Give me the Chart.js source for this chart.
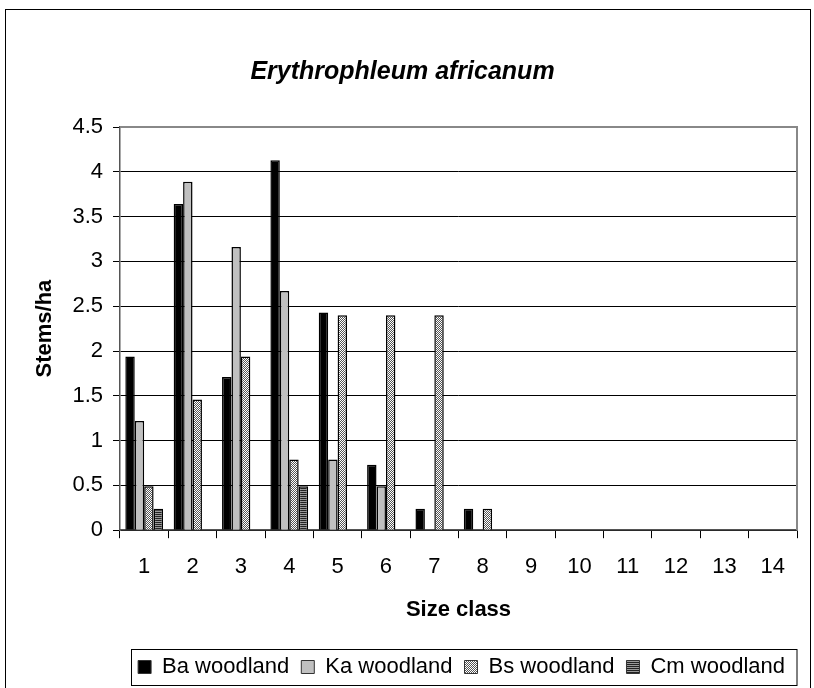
<!DOCTYPE html>
<html>
<head>
<meta charset="utf-8">
<script src="https://cdn.jsdelivr.net/npm/chart.js@4"></script>
<style>
  html, body { margin: 0; padding: 0; background: #fff; }
  #wrap { width: 814px; height: 688px; }
</style>
</head>
<body>
<div id="wrap"><canvas id="chart" width="814" height="688"></canvas></div>
<script>
// size classes and stems/ha per woodland type
const sizeClasses = ['1', '2', '3', '4', '5', '6', '7', '8', '9', '10', '11', '12', '13', '14'];
const baWoodland = [1.94, 3.64, 1.71, 4.13, 2.43, 0.73, 0.24, 0.24, 0, 0, 0, 0, 0, 0];
const kaWoodland = [1.22, 3.89, 3.16, 2.67, 0.79, 0.49, 0, 0, 0, 0, 0, 0, 0, 0];
const bsWoodland = [0.49, 1.46, 1.94, 0.79, 2.40, 2.40, 2.40, 0.24, 0, 0, 0, 0, 0, 0];
const cmWoodland = [0.24, 0, 0, 0.49, 0, 0, 0, 0, 0, 0, 0, 0, 0, 0];
const yTicks = [0, 0.5, 1, 1.5, 2, 2.5, 3, 3.5, 4, 4.5];

const FONT = '"Liberation Sans", Arial, sans-serif';

// fill patterns, Excel style
function makePattern(kind) {
  const c = document.createElement('canvas');
  c.width = 4; c.height = 4;
  const g = c.getContext('2d');
  g.fillStyle = '#fff';
  g.fillRect(0, 0, 4, 4);
  if (kind === 'diag') {
    g.fillStyle = '#555';
    for (let i = 0; i < 4; i++) {
      g.fillRect((3 - i + 4) % 4, i, 1, 1);
      g.fillRect((3 - i + 6) % 4, i, 1, 1);
    }
  } else {
    g.fillStyle = '#222';
    g.fillRect(0, 0, 4, 1);
    g.fillRect(0, 2, 4, 1);
    g.fillStyle = '#999';
    g.fillRect(0, 1, 4, 1);
    g.fillRect(0, 3, 4, 1);
  }
  return g.createPattern(c, 'repeat');
}
const ctx = document.getElementById('chart').getContext('2d');
const diagFill = makePattern('diag');
const stripeFill = makePattern('stripe');

// white background, outer frame, plot frame and legend box
const framePlugin = {
  id: 'frame',
  beforeDraw(chart) {
    const c = chart.ctx;
    c.save();
    c.fillStyle = '#fff';
    c.fillRect(0, 0, chart.width, chart.height);
    c.strokeStyle = '#000';
    c.lineWidth = 1;
    c.strokeRect(5.5, 9.5, chart.width - 9, chart.height + 20);
    c.restore();
  },
  afterDraw(chart) {
    const c = chart.ctx;
    const a = chart.chartArea;
    c.save();
    c.strokeStyle = '#888';
    c.lineWidth = 2;
    c.beginPath();
    c.moveTo(a.left, a.top);
    c.lineTo(a.right, a.top);
    c.lineTo(a.right, a.bottom);
    c.stroke();
    const boxes = chart.legend.legendHitBoxes;
    if (boxes && boxes.length) {
      const minX = Math.min(...boxes.map(b => b.left));
      const top = boxes[0].top;
      c.strokeStyle = '#000';
      c.lineWidth = 1;
      const left = Math.round(minX - 7) + 0.5;
      c.strokeRect(left, Math.round(top - 7) + 0.5, Math.round(a.right) - left, 36);
    }
    c.restore();
  }
};

new Chart(ctx, {
  type: 'bar',
  data: {
    labels: sizeClasses,
    datasets: [{
      label: 'Ba woodland',
      data: baWoodland,
      backgroundColor: '#000',
      borderColor: '#000',
      borderWidth: 1.5
    },
    {
      label: 'Ka woodland',
      data: kaWoodland,
      backgroundColor: '#c0c0c0',
      borderColor: '#000',
      borderWidth: 1.5
    },
    {
      label: 'Bs woodland',
      data: bsWoodland,
      backgroundColor: diagFill,
      borderColor: '#000',
      borderWidth: 1.5
    },
    {
      label: 'Cm woodland',
      data: cmWoodland,
      backgroundColor: stripeFill,
      borderColor: '#000',
      borderWidth: 1.5
    }]
  },
  options: {
    responsive: false,
    animation: false,
    devicePixelRatio: 1,
    categoryPercentage: 0.78,
    barPercentage: 1.0,
    layout: {
      padding: { left: 8, right: 17, top: 10, bottom: 0 }
    },
    scales: {
      x: {
        grid: {
          offset: true,
          drawOnChartArea: false,
          drawTicks: true,
          tickLength: 8,
          color: '#000'
        },
        border: { color: '#555', width: 1.5 },
        ticks: {
          color: '#000',
          padding: 16,
          font: { family: FONT, size: 22 }
        },
        title: {
          display: true,
          text: 'Size class',
          color: '#000',
          padding: { top: 0, bottom: 21 },
          font: { family: FONT, size: 22, weight: 'bold' }
        }
      },
      y: {
        min: 0,
        max: 4.5,
        afterBuildTicks(axis) {
          axis.ticks = yTicks.map(v => ({ value: v }));
        },
        afterFit(axis) {
          axis.width = 112;
        },
        grid: {
          color: '#000',
          lineWidth: 1,
          tickLength: 7
        },
        border: { color: '#555', width: 1.5 },
        ticks: {
          color: '#000',
          padding: 10,
          font: { family: FONT, size: 22 },
          callback: v => String(v)
        },
        title: {
          display: true,
          text: 'Stems/ha',
          color: '#000',
          padding: { top: 24, bottom: 0 },
          font: { family: FONT, size: 22, weight: 'bold' }
        }
      }
    },
    plugins: {
      title: {
        display: true,
        text: 'Erythrophleum africanum',
        color: '#000',
        padding: { top: 47, bottom: 40 },
        font: { family: FONT, size: 25, weight: 'bold', style: 'italic' }
      },
      legend: {
        position: 'bottom',
        align: 'end',
        labels: {
          color: '#000',
          boxWidth: 13,
          boxHeight: 13,
          padding: 12,
          font: { family: FONT, size: 22 },
          generateLabels(chart) {
            return chart.data.datasets.map((ds, i) => ({
              text: ds.label,
              fillStyle: ds.backgroundColor,
              strokeStyle: '#333',
              lineWidth: 1,
              fontColor: '#000',
              datasetIndex: i,
              hidden: false
            }));
          }
        }
      },
      tooltip: { enabled: false }
    }
  },
  plugins: [framePlugin]
});
</script>
</body>
</html>
